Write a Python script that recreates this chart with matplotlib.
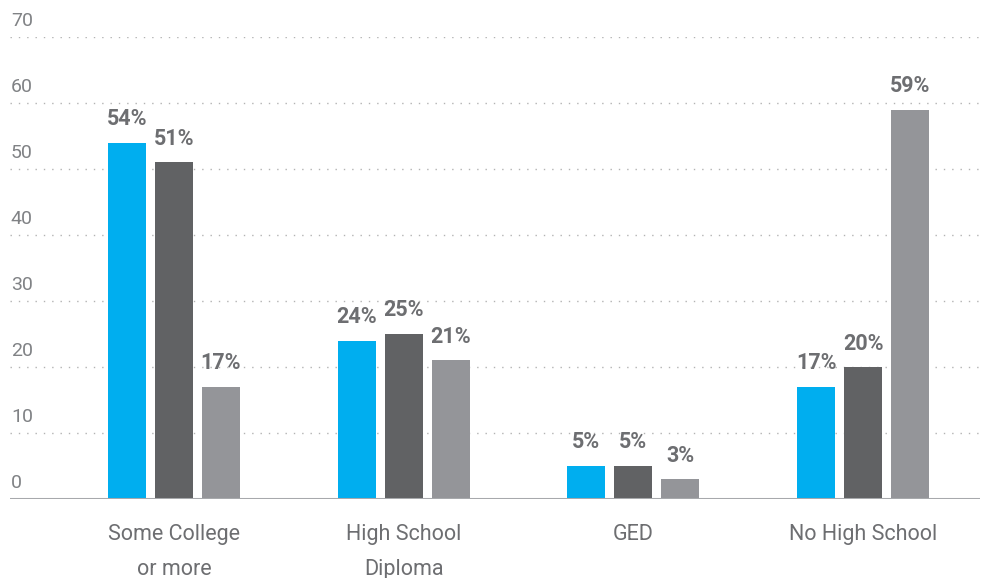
import numpy as np
import matplotlib
matplotlib.use("Agg")
import matplotlib.pyplot as plt

plt.rcParams['font.family'] = ['Roboto', 'DejaVu Sans']

categories = ["Some College\nor more", "High School\nDiploma", "GED", "No High School"]
series_a = [54, 24, 5, 17]
series_b = [51, 25, 5, 20]
series_c = [17, 21, 3, 59]
y_ticks = [0, 10, 20, 30, 40, 50, 60, 70]

colors = ['#00aeef', '#616264', '#949599']
text_color = '#6d6e71'

fig = plt.figure(figsize=(9.82, 5.78), dpi=100)
ax = fig.add_axes([10 / 982, 79 / 578, 970 / 982, 462 / 578])

x = np.arange(len(categories))
width = 0.165
step = 0.2046

for i, (vals, col) in enumerate(zip([series_a, series_b, series_c], colors)):
    pos = x + (i - 1) * step
    bars = ax.bar(pos, vals, width=width, color=col, zorder=3)
    for b, v in zip(bars, vals):
        ax.annotate(f"{v}%", (b.get_x() + b.get_width() / 2, v),
                    xytext=(0, 9), textcoords='offset points',
                    ha='center', va='bottom', fontsize=15.5, fontweight='bold',
                    color=text_color)

ax.set_xlim(-0.714, 3.509)
ax.set_ylim(0, 70)

# dotted gridlines with labels sitting above them
for t in y_ticks[1:]:
    ax.axhline(t, color='#b3b3b3', linestyle=(0, (1, 5)), linewidth=1, zorder=1)
for t in y_ticks:
    ax.text(-0.71, t + 1.1, str(t), ha='left', va='bottom', fontsize=14,
            color='#808285')
ax.axhline(0, color='#a7a9ac', linewidth=2.2, zorder=4)

for s in ax.spines.values():
    s.set_visible(False)
ax.set_yticks([])
ax.set_xticks(x)
ax.set_xticklabels(categories, fontsize=15.5, color=text_color, linespacing=1.85)
ax.tick_params(axis='x', length=0, pad=18)

fig.savefig("out.png", dpi=100)
